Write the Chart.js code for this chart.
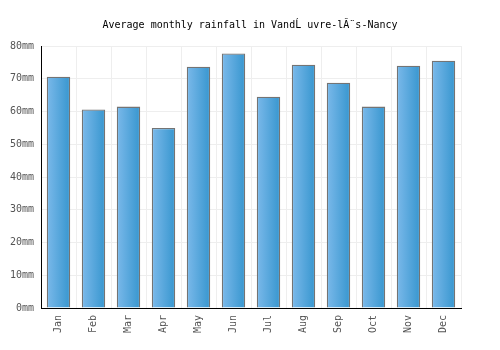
<!DOCTYPE html>
<html>
<head>
<meta charset="utf-8">
<script src="https://cdn.jsdelivr.net/npm/chart.js@4/dist/chart.umd.min.js"></script>
<style>
html,body{margin:0;padding:0;background:#fff;}
#wrap{width:500px;height:350px;}
</style>
</head>
<body>
<div id="wrap"><canvas id="c" width="500" height="350"></canvas></div>
<script>
const titleText = "Average monthly rainfall in VandĹ uvre-lĂ¨s-Nancy";
const months = ["Jan","Feb","Mar","Apr","May","Jun","Jul","Aug","Sep","Oct","Nov","Dec"];
const rainfall = [70.6, 60.6, 61.5, 55.0, 73.7, 77.7, 64.5, 74.3, 68.8, 61.5, 74.0, 75.5];
const yTicks = [0, 10, 20, 30, 40, 50, 60, 70, 80];

const BAR_PCT = 0.67;
function barGradient(ctx) {
  const chart = ctx.chart;
  const xs = chart.scales && chart.scales.x;
  if (!xs || !chart.chartArea || ctx.dataIndex === undefined) return '#5aa8de';
  const cx = xs.getPixelForValue(ctx.dataIndex);
  const w = (xs.width / months.length) * BAR_PCT;
  const g = chart.ctx.createLinearGradient(cx - w / 2, 0, cx + w / 2, 0);
  g.addColorStop(0, '#7bb9ea');
  g.addColorStop(1, '#3796cf');
  return g;
}

const FONT = "'DejaVu Sans Mono', monospace";
new Chart(document.getElementById('c'), {
  type: 'bar',
  data: {
    labels: months,
    datasets: [{
      data: rainfall,
      backgroundColor: barGradient,
      borderColor: '#747474',
      borderWidth: 1.3,
      borderSkipped: 'bottom',
      categoryPercentage: 1,
      barPercentage: BAR_PCT
    }]
  },
  options: {
    responsive: false,
    animation: false,
    devicePixelRatio: 1,
    layout: { padding: 0 },
    plugins: {
      legend: { display: false },
      tooltip: { enabled: false },
      title: {
        display: true,
        text: titleText,
        color: '#000',
        font: { family: FONT, size: 10, weight: 'normal', lineHeight: 1.2 },
        padding: { top: 19, bottom: 15 }
      }
    },
    scales: {
      x: {
        offset: true,
        grid: { color: '#eeeeee', offset: true, drawTicks: false },
        border: { color: '#000', width: 1 },
        ticks: {
          color: '#555',
          font: { family: FONT, size: 10 },
          minRotation: 90, maxRotation: 90,
          padding: 7
        },
        afterFit: s => { s.height = 42; }
      },
      y: {
        min: 0, max: 80,
        afterBuildTicks: s => { s.ticks = yTicks.map(v => ({ value: v })); },
        grid: { color: '#eeeeee', drawTicks: false },
        border: { color: '#000', width: 1 },
        ticks: {
          color: '#555',
          font: { family: FONT, size: 10 },
          padding: 7,
          callback: v => v + 'mm'
        },
        afterFit: s => { s.width = 41; }
      },
      yRight: {
        position: 'right',
        min: 0, max: 80,
        grid: { display: false, drawTicks: false },
        border: { display: false },
        ticks: { display: false },
        afterFit: s => { s.width = 39; }
      }
    }
  }
});
</script>
</body>
</html>
